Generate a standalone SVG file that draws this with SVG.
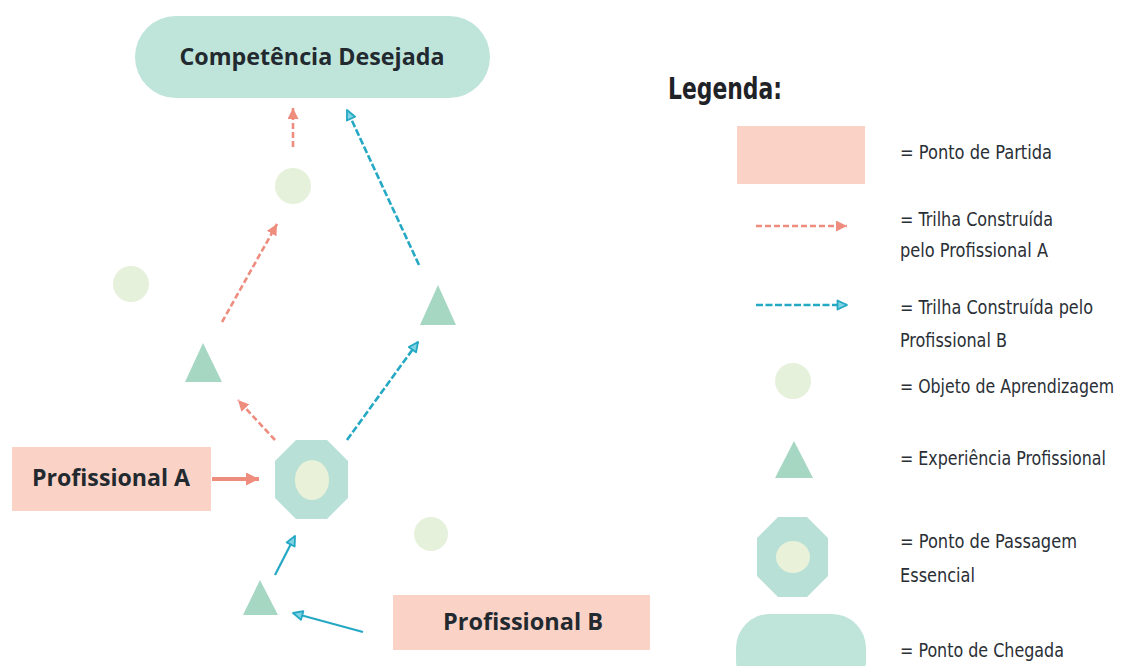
<svg xmlns="http://www.w3.org/2000/svg" width="1123" height="666" viewBox="0 0 1123 666">
<style>
.start{fill:#fbd2c6}
.goal{fill:#bfe4da}
.oct{fill:#b9e0d6}
.inner{fill:#e9f2d9}
.obj{fill:#e6f1dc}
.exp{fill:#a6d7c2}
.lbl{font-family:"Open Sans","Liberation Sans",sans-serif;font-weight:bold;fill:#222a30}
.leg{font-family:"DejaVu Sans Condensed","Liberation Sans",sans-serif;font-size:19px;fill:#2a2f36}
.pa{stroke:#ee8c7e;stroke-width:2.6;fill:none;stroke-dasharray:6 3}
.pb{stroke:#25a8c4;stroke-width:2.6;fill:none;stroke-dasharray:7 2.5}
.pbs{stroke:#25a8c4;stroke-width:2.2;fill:none}
</style>
<defs>
<marker id="ha" viewBox="0 0 10 10" refX="10" refY="5" markerWidth="11" markerHeight="11" markerUnits="userSpaceOnUse" orient="auto">
<path d="M0,0 L10,5 L0,10 z" fill="#ee8c7e"/>
</marker>
<marker id="haBig" viewBox="0 0 10 10" refX="10" refY="5" markerWidth="13" markerHeight="13" markerUnits="userSpaceOnUse" orient="auto">
<path d="M0,0 L10,5 L0,10 z" fill="#ee8c7e"/>
</marker>
<marker id="hb" viewBox="0 0 12 12" refX="11" refY="6" markerWidth="12" markerHeight="12" markerUnits="userSpaceOnUse" orient="auto">
<path d="M1.5,1.5 L11,6 L1.5,10.5 z" fill="#7fd3e3" stroke="#25a8c4" stroke-width="1.8" stroke-linejoin="round"/>
</marker>
</defs>

<g id="competencia-desejada">
<rect class="goal" x="135" y="16" width="355" height="82" rx="41"/>
<text class="lbl" x="312" y="65" font-size="24" text-anchor="middle" textLength="265" lengthAdjust="spacingAndGlyphs">Competência Desejada</text>
</g>

<g id="profissional-a">
<rect class="start" x="12" y="447" width="199" height="64"/>
<text class="lbl" x="32" y="486" font-size="24" textLength="158" lengthAdjust="spacingAndGlyphs">Profissional A</text>
</g>

<g id="profissional-b">
<rect class="start" x="393" y="595" width="257" height="55"/>
<text class="lbl" x="443" y="630" font-size="24" textLength="160" lengthAdjust="spacingAndGlyphs">Profissional B</text>
</g>

<g id="ponto-passagem">
<polygon class="oct" points="296,440 327,440 348,461 348,498 327,519 296,519 275,498 275,461"/>
<ellipse class="inner" cx="312" cy="480" rx="17" ry="20"/>
</g>

<g id="objeto-topo"><circle class="obj" cx="293" cy="186" r="18"/></g>
<g id="objeto-esquerda"><circle class="obj" cx="131" cy="284" r="18"/></g>
<g id="objeto-direita"><circle class="obj" cx="431" cy="534" r="17"/></g>

<g id="experiencia-esquerda"><polygon class="exp" points="203,343 222,382 185,382"/></g>
<g id="experiencia-direita"><polygon class="exp" points="438,285 456,325 420,325"/></g>
<g id="experiencia-baixo"><polygon class="exp" points="260,580 278,615 243,615"/></g>

<g id="connectors">
<line x1="212" y1="479" x2="259" y2="479" stroke="#ee8c7e" stroke-width="4" marker-end="url(#haBig)"/>
<line class="pa" x1="275" y1="440" x2="238" y2="400" marker-end="url(#ha)"/>
<line class="pa" x1="222" y1="322" x2="277" y2="224" marker-end="url(#ha)"/>
<line class="pa" x1="293" y1="147" x2="293" y2="108" marker-end="url(#ha)"/>
<line class="pbs" x1="363" y1="632" x2="293" y2="613" marker-end="url(#hb)"/>
<line class="pbs" x1="275" y1="575" x2="295" y2="536" marker-end="url(#hb)"/>
<line class="pb" x1="347" y1="440" x2="418" y2="342" marker-end="url(#hb)"/>
<line class="pb" x1="419" y1="265" x2="347" y2="110" marker-end="url(#hb)"/>
</g>

<g id="legenda">
<text x="668" y="99" font-family="DejaVu Sans Condensed,Liberation Sans,sans-serif" font-weight="bold" font-size="30" fill="#1f2328" textLength="114" lengthAdjust="spacingAndGlyphs">Legenda:</text>

<rect class="start" x="737" y="126" width="128" height="58"/>
<text class="leg" x="900" y="159" textLength="152" lengthAdjust="spacingAndGlyphs">= Ponto de Partida</text>

<line class="pa" x1="756" y1="226" x2="847" y2="226" stroke-dasharray="5 2" marker-end="url(#ha)"/>
<text class="leg" x="900" y="226" textLength="153" lengthAdjust="spacingAndGlyphs">= Trilha Construída</text>
<text class="leg" x="900" y="257" textLength="148" lengthAdjust="spacingAndGlyphs">pelo Profissional A</text>

<line class="pb" x1="756" y1="305" x2="847" y2="305" stroke-dasharray="5 2" marker-end="url(#hb)"/>
<text class="leg" x="900" y="314" textLength="193" lengthAdjust="spacingAndGlyphs">= Trilha Construída pelo</text>
<text class="leg" x="900" y="347" textLength="107" lengthAdjust="spacingAndGlyphs">Profissional B</text>

<circle class="obj" cx="793" cy="381" r="18"/>
<text class="leg" x="900" y="393" textLength="214" lengthAdjust="spacingAndGlyphs">= Objeto de Aprendizagem</text>

<polygon class="exp" points="794,441 813,478 775,478"/>
<text class="leg" x="900" y="465" textLength="206" lengthAdjust="spacingAndGlyphs">= Experiência Profissional</text>

<polygon class="oct" points="778,517 807,517 828,538 828,576 807,597 778,597 757,576 757,538"/>
<ellipse class="inner" cx="793" cy="557" rx="17" ry="16"/>
<text class="leg" x="900" y="548" textLength="177" lengthAdjust="spacingAndGlyphs">= Ponto de Passagem</text>
<text class="leg" x="900" y="582" textLength="75" lengthAdjust="spacingAndGlyphs">Essencial</text>

<rect class="goal" x="736" y="614" width="130" height="80" rx="34"/>
<text class="leg" x="900" y="657" textLength="164" lengthAdjust="spacingAndGlyphs">= Ponto de Chegada</text>
</g>
</svg>
